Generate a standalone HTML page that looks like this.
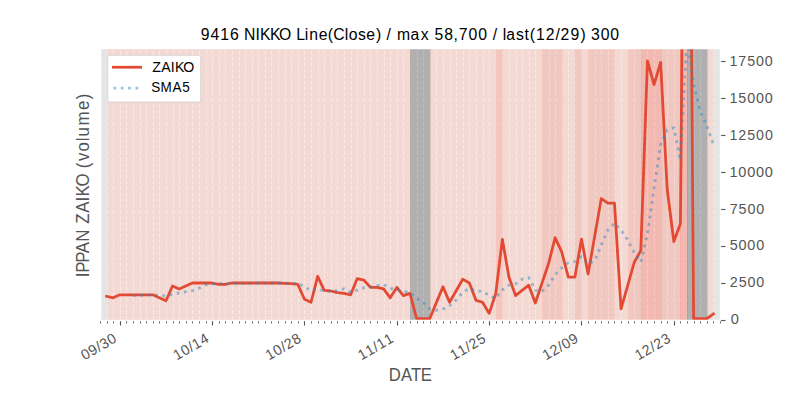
<!DOCTYPE html>
<html><head><meta charset="utf-8"><title>9416 NIKKO Line(Close)</title>
<style>html,body{margin:0;padding:0;background:#fff;width:800px;height:400px;overflow:hidden}
svg{display:block;font-family:"Liberation Sans",sans-serif}</style></head>
<body><svg width="800" height="400" viewBox="0 0 800 400">
<rect x="0" y="0" width="800" height="400" fill="#ffffff"/>
<rect x="100.0" y="48.0" width="620.0" height="272.0" fill="#e5e5e5"/>
<defs><clipPath id="axclip"><rect x="100" y="48" width="620" height="272"/></clipPath></defs>
<g clip-path="url(#axclip)">
<line x1="100.5" y1="320.0" x2="100.5" y2="48.0" stroke="#ffffff" stroke-width="1.111" stroke-dasharray="4.111 1.778"/>
<line x1="107.5" y1="320.0" x2="107.5" y2="48.0" stroke="#ffffff" stroke-width="1.111" stroke-dasharray="4.111 1.778"/>
<line x1="113.5" y1="320.0" x2="113.5" y2="48.0" stroke="#ffffff" stroke-width="1.111" stroke-dasharray="4.111 1.778"/>
<line x1="120.5" y1="320.0" x2="120.5" y2="48.0" stroke="#ffffff" stroke-width="1.111" stroke-dasharray="4.111 1.778"/>
<line x1="126.5" y1="320.0" x2="126.5" y2="48.0" stroke="#ffffff" stroke-width="1.111" stroke-dasharray="4.111 1.778"/>
<line x1="133.5" y1="320.0" x2="133.5" y2="48.0" stroke="#ffffff" stroke-width="1.111" stroke-dasharray="4.111 1.778"/>
<line x1="140.5" y1="320.0" x2="140.5" y2="48.0" stroke="#ffffff" stroke-width="1.111" stroke-dasharray="4.111 1.778"/>
<line x1="146.5" y1="320.0" x2="146.5" y2="48.0" stroke="#ffffff" stroke-width="1.111" stroke-dasharray="4.111 1.778"/>
<line x1="153.5" y1="320.0" x2="153.5" y2="48.0" stroke="#ffffff" stroke-width="1.111" stroke-dasharray="4.111 1.778"/>
<line x1="159.5" y1="320.0" x2="159.5" y2="48.0" stroke="#ffffff" stroke-width="1.111" stroke-dasharray="4.111 1.778"/>
<line x1="166.5" y1="320.0" x2="166.5" y2="48.0" stroke="#ffffff" stroke-width="1.111" stroke-dasharray="4.111 1.778"/>
<line x1="173.5" y1="320.0" x2="173.5" y2="48.0" stroke="#ffffff" stroke-width="1.111" stroke-dasharray="4.111 1.778"/>
<line x1="179.5" y1="320.0" x2="179.5" y2="48.0" stroke="#ffffff" stroke-width="1.111" stroke-dasharray="4.111 1.778"/>
<line x1="186.5" y1="320.0" x2="186.5" y2="48.0" stroke="#ffffff" stroke-width="1.111" stroke-dasharray="4.111 1.778"/>
<line x1="192.5" y1="320.0" x2="192.5" y2="48.0" stroke="#ffffff" stroke-width="1.111" stroke-dasharray="4.111 1.778"/>
<line x1="199.5" y1="320.0" x2="199.5" y2="48.0" stroke="#ffffff" stroke-width="1.111" stroke-dasharray="4.111 1.778"/>
<line x1="206.5" y1="320.0" x2="206.5" y2="48.0" stroke="#ffffff" stroke-width="1.111" stroke-dasharray="4.111 1.778"/>
<line x1="212.5" y1="320.0" x2="212.5" y2="48.0" stroke="#ffffff" stroke-width="1.111" stroke-dasharray="4.111 1.778"/>
<line x1="219.5" y1="320.0" x2="219.5" y2="48.0" stroke="#ffffff" stroke-width="1.111" stroke-dasharray="4.111 1.778"/>
<line x1="225.5" y1="320.0" x2="225.5" y2="48.0" stroke="#ffffff" stroke-width="1.111" stroke-dasharray="4.111 1.778"/>
<line x1="232.5" y1="320.0" x2="232.5" y2="48.0" stroke="#ffffff" stroke-width="1.111" stroke-dasharray="4.111 1.778"/>
<line x1="239.5" y1="320.0" x2="239.5" y2="48.0" stroke="#ffffff" stroke-width="1.111" stroke-dasharray="4.111 1.778"/>
<line x1="245.5" y1="320.0" x2="245.5" y2="48.0" stroke="#ffffff" stroke-width="1.111" stroke-dasharray="4.111 1.778"/>
<line x1="252.5" y1="320.0" x2="252.5" y2="48.0" stroke="#ffffff" stroke-width="1.111" stroke-dasharray="4.111 1.778"/>
<line x1="258.5" y1="320.0" x2="258.5" y2="48.0" stroke="#ffffff" stroke-width="1.111" stroke-dasharray="4.111 1.778"/>
<line x1="265.5" y1="320.0" x2="265.5" y2="48.0" stroke="#ffffff" stroke-width="1.111" stroke-dasharray="4.111 1.778"/>
<line x1="271.5" y1="320.0" x2="271.5" y2="48.0" stroke="#ffffff" stroke-width="1.111" stroke-dasharray="4.111 1.778"/>
<line x1="278.5" y1="320.0" x2="278.5" y2="48.0" stroke="#ffffff" stroke-width="1.111" stroke-dasharray="4.111 1.778"/>
<line x1="285.5" y1="320.0" x2="285.5" y2="48.0" stroke="#ffffff" stroke-width="1.111" stroke-dasharray="4.111 1.778"/>
<line x1="291.5" y1="320.0" x2="291.5" y2="48.0" stroke="#ffffff" stroke-width="1.111" stroke-dasharray="4.111 1.778"/>
<line x1="298.5" y1="320.0" x2="298.5" y2="48.0" stroke="#ffffff" stroke-width="1.111" stroke-dasharray="4.111 1.778"/>
<line x1="304.5" y1="320.0" x2="304.5" y2="48.0" stroke="#ffffff" stroke-width="1.111" stroke-dasharray="4.111 1.778"/>
<line x1="311.5" y1="320.0" x2="311.5" y2="48.0" stroke="#ffffff" stroke-width="1.111" stroke-dasharray="4.111 1.778"/>
<line x1="318.5" y1="320.0" x2="318.5" y2="48.0" stroke="#ffffff" stroke-width="1.111" stroke-dasharray="4.111 1.778"/>
<line x1="324.5" y1="320.0" x2="324.5" y2="48.0" stroke="#ffffff" stroke-width="1.111" stroke-dasharray="4.111 1.778"/>
<line x1="331.5" y1="320.0" x2="331.5" y2="48.0" stroke="#ffffff" stroke-width="1.111" stroke-dasharray="4.111 1.778"/>
<line x1="337.5" y1="320.0" x2="337.5" y2="48.0" stroke="#ffffff" stroke-width="1.111" stroke-dasharray="4.111 1.778"/>
<line x1="344.5" y1="320.0" x2="344.5" y2="48.0" stroke="#ffffff" stroke-width="1.111" stroke-dasharray="4.111 1.778"/>
<line x1="351.5" y1="320.0" x2="351.5" y2="48.0" stroke="#ffffff" stroke-width="1.111" stroke-dasharray="4.111 1.778"/>
<line x1="357.5" y1="320.0" x2="357.5" y2="48.0" stroke="#ffffff" stroke-width="1.111" stroke-dasharray="4.111 1.778"/>
<line x1="364.5" y1="320.0" x2="364.5" y2="48.0" stroke="#ffffff" stroke-width="1.111" stroke-dasharray="4.111 1.778"/>
<line x1="370.5" y1="320.0" x2="370.5" y2="48.0" stroke="#ffffff" stroke-width="1.111" stroke-dasharray="4.111 1.778"/>
<line x1="377.5" y1="320.0" x2="377.5" y2="48.0" stroke="#ffffff" stroke-width="1.111" stroke-dasharray="4.111 1.778"/>
<line x1="384.5" y1="320.0" x2="384.5" y2="48.0" stroke="#ffffff" stroke-width="1.111" stroke-dasharray="4.111 1.778"/>
<line x1="390.5" y1="320.0" x2="390.5" y2="48.0" stroke="#ffffff" stroke-width="1.111" stroke-dasharray="4.111 1.778"/>
<line x1="397.5" y1="320.0" x2="397.5" y2="48.0" stroke="#ffffff" stroke-width="1.111" stroke-dasharray="4.111 1.778"/>
<line x1="403.5" y1="320.0" x2="403.5" y2="48.0" stroke="#ffffff" stroke-width="1.111" stroke-dasharray="4.111 1.778"/>
<line x1="410.5" y1="320.0" x2="410.5" y2="48.0" stroke="#ffffff" stroke-width="1.111" stroke-dasharray="4.111 1.778"/>
<line x1="417.5" y1="320.0" x2="417.5" y2="48.0" stroke="#ffffff" stroke-width="1.111" stroke-dasharray="4.111 1.778"/>
<line x1="423.5" y1="320.0" x2="423.5" y2="48.0" stroke="#ffffff" stroke-width="1.111" stroke-dasharray="4.111 1.778"/>
<line x1="430.5" y1="320.0" x2="430.5" y2="48.0" stroke="#ffffff" stroke-width="1.111" stroke-dasharray="4.111 1.778"/>
<line x1="436.5" y1="320.0" x2="436.5" y2="48.0" stroke="#ffffff" stroke-width="1.111" stroke-dasharray="4.111 1.778"/>
<line x1="443.5" y1="320.0" x2="443.5" y2="48.0" stroke="#ffffff" stroke-width="1.111" stroke-dasharray="4.111 1.778"/>
<line x1="450.5" y1="320.0" x2="450.5" y2="48.0" stroke="#ffffff" stroke-width="1.111" stroke-dasharray="4.111 1.778"/>
<line x1="456.5" y1="320.0" x2="456.5" y2="48.0" stroke="#ffffff" stroke-width="1.111" stroke-dasharray="4.111 1.778"/>
<line x1="463.5" y1="320.0" x2="463.5" y2="48.0" stroke="#ffffff" stroke-width="1.111" stroke-dasharray="4.111 1.778"/>
<line x1="469.5" y1="320.0" x2="469.5" y2="48.0" stroke="#ffffff" stroke-width="1.111" stroke-dasharray="4.111 1.778"/>
<line x1="476.5" y1="320.0" x2="476.5" y2="48.0" stroke="#ffffff" stroke-width="1.111" stroke-dasharray="4.111 1.778"/>
<line x1="483.5" y1="320.0" x2="483.5" y2="48.0" stroke="#ffffff" stroke-width="1.111" stroke-dasharray="4.111 1.778"/>
<line x1="489.5" y1="320.0" x2="489.5" y2="48.0" stroke="#ffffff" stroke-width="1.111" stroke-dasharray="4.111 1.778"/>
<line x1="496.5" y1="320.0" x2="496.5" y2="48.0" stroke="#ffffff" stroke-width="1.111" stroke-dasharray="4.111 1.778"/>
<line x1="502.5" y1="320.0" x2="502.5" y2="48.0" stroke="#ffffff" stroke-width="1.111" stroke-dasharray="4.111 1.778"/>
<line x1="509.5" y1="320.0" x2="509.5" y2="48.0" stroke="#ffffff" stroke-width="1.111" stroke-dasharray="4.111 1.778"/>
<line x1="516.5" y1="320.0" x2="516.5" y2="48.0" stroke="#ffffff" stroke-width="1.111" stroke-dasharray="4.111 1.778"/>
<line x1="522.5" y1="320.0" x2="522.5" y2="48.0" stroke="#ffffff" stroke-width="1.111" stroke-dasharray="4.111 1.778"/>
<line x1="529.5" y1="320.0" x2="529.5" y2="48.0" stroke="#ffffff" stroke-width="1.111" stroke-dasharray="4.111 1.778"/>
<line x1="535.5" y1="320.0" x2="535.5" y2="48.0" stroke="#ffffff" stroke-width="1.111" stroke-dasharray="4.111 1.778"/>
<line x1="542.5" y1="320.0" x2="542.5" y2="48.0" stroke="#ffffff" stroke-width="1.111" stroke-dasharray="4.111 1.778"/>
<line x1="549.5" y1="320.0" x2="549.5" y2="48.0" stroke="#ffffff" stroke-width="1.111" stroke-dasharray="4.111 1.778"/>
<line x1="555.5" y1="320.0" x2="555.5" y2="48.0" stroke="#ffffff" stroke-width="1.111" stroke-dasharray="4.111 1.778"/>
<line x1="562.5" y1="320.0" x2="562.5" y2="48.0" stroke="#ffffff" stroke-width="1.111" stroke-dasharray="4.111 1.778"/>
<line x1="568.5" y1="320.0" x2="568.5" y2="48.0" stroke="#ffffff" stroke-width="1.111" stroke-dasharray="4.111 1.778"/>
<line x1="575.5" y1="320.0" x2="575.5" y2="48.0" stroke="#ffffff" stroke-width="1.111" stroke-dasharray="4.111 1.778"/>
<line x1="581.5" y1="320.0" x2="581.5" y2="48.0" stroke="#ffffff" stroke-width="1.111" stroke-dasharray="4.111 1.778"/>
<line x1="588.5" y1="320.0" x2="588.5" y2="48.0" stroke="#ffffff" stroke-width="1.111" stroke-dasharray="4.111 1.778"/>
<line x1="595.5" y1="320.0" x2="595.5" y2="48.0" stroke="#ffffff" stroke-width="1.111" stroke-dasharray="4.111 1.778"/>
<line x1="601.5" y1="320.0" x2="601.5" y2="48.0" stroke="#ffffff" stroke-width="1.111" stroke-dasharray="4.111 1.778"/>
<line x1="608.5" y1="320.0" x2="608.5" y2="48.0" stroke="#ffffff" stroke-width="1.111" stroke-dasharray="4.111 1.778"/>
<line x1="614.5" y1="320.0" x2="614.5" y2="48.0" stroke="#ffffff" stroke-width="1.111" stroke-dasharray="4.111 1.778"/>
<line x1="621.5" y1="320.0" x2="621.5" y2="48.0" stroke="#ffffff" stroke-width="1.111" stroke-dasharray="4.111 1.778"/>
<line x1="628.5" y1="320.0" x2="628.5" y2="48.0" stroke="#ffffff" stroke-width="1.111" stroke-dasharray="4.111 1.778"/>
<line x1="634.5" y1="320.0" x2="634.5" y2="48.0" stroke="#ffffff" stroke-width="1.111" stroke-dasharray="4.111 1.778"/>
<line x1="641.5" y1="320.0" x2="641.5" y2="48.0" stroke="#ffffff" stroke-width="1.111" stroke-dasharray="4.111 1.778"/>
<line x1="647.5" y1="320.0" x2="647.5" y2="48.0" stroke="#ffffff" stroke-width="1.111" stroke-dasharray="4.111 1.778"/>
<line x1="654.5" y1="320.0" x2="654.5" y2="48.0" stroke="#ffffff" stroke-width="1.111" stroke-dasharray="4.111 1.778"/>
<line x1="661.5" y1="320.0" x2="661.5" y2="48.0" stroke="#ffffff" stroke-width="1.111" stroke-dasharray="4.111 1.778"/>
<line x1="667.5" y1="320.0" x2="667.5" y2="48.0" stroke="#ffffff" stroke-width="1.111" stroke-dasharray="4.111 1.778"/>
<line x1="674.5" y1="320.0" x2="674.5" y2="48.0" stroke="#ffffff" stroke-width="1.111" stroke-dasharray="4.111 1.778"/>
<line x1="680.5" y1="320.0" x2="680.5" y2="48.0" stroke="#ffffff" stroke-width="1.111" stroke-dasharray="4.111 1.778"/>
<line x1="687.5" y1="320.0" x2="687.5" y2="48.0" stroke="#ffffff" stroke-width="1.111" stroke-dasharray="4.111 1.778"/>
<line x1="694.5" y1="320.0" x2="694.5" y2="48.0" stroke="#ffffff" stroke-width="1.111" stroke-dasharray="4.111 1.778"/>
<line x1="700.5" y1="320.0" x2="700.5" y2="48.0" stroke="#ffffff" stroke-width="1.111" stroke-dasharray="4.111 1.778"/>
<line x1="707.5" y1="320.0" x2="707.5" y2="48.0" stroke="#ffffff" stroke-width="1.111" stroke-dasharray="4.111 1.778"/>
<line x1="713.5" y1="320.0" x2="713.5" y2="48.0" stroke="#ffffff" stroke-width="1.111" stroke-dasharray="4.111 1.778"/>
<line x1="720.5" y1="320.0" x2="720.5" y2="48.0" stroke="#ffffff" stroke-width="1.111" stroke-dasharray="4.111 1.778"/>
<rect x="107.5" y="47.5" width="303.0" height="273.0" fill="#ffcdc1" fill-opacity="0.5" stroke="#ffcdc1" stroke-opacity="0.5" stroke-width="0.694"/>
<rect x="410.5" y="47.5" width="20.0" height="273.0" fill="#7b7b7b" fill-opacity="0.5" stroke="#7b7b7b" stroke-opacity="0.5" stroke-width="0.694"/>
<rect x="430.5" y="47.5" width="66.0" height="273.0" fill="#ffcdc1" fill-opacity="0.5" stroke="#ffcdc1" stroke-opacity="0.5" stroke-width="0.694"/>
<rect x="496.5" y="47.5" width="6.0" height="273.0" fill="#fbab9f" fill-opacity="0.5" stroke="#fbab9f" stroke-opacity="0.5" stroke-width="0.694"/>
<rect x="502.5" y="47.5" width="40.0" height="273.0" fill="#ffcdc1" fill-opacity="0.5" stroke="#ffcdc1" stroke-opacity="0.5" stroke-width="0.694"/>
<rect x="542.5" y="47.5" width="20.0" height="273.0" fill="#fbab9f" fill-opacity="0.5" stroke="#fbab9f" stroke-opacity="0.5" stroke-width="0.694"/>
<rect x="562.5" y="47.5" width="13.0" height="273.0" fill="#ffcdc1" fill-opacity="0.5" stroke="#ffcdc1" stroke-opacity="0.5" stroke-width="0.694"/>
<rect x="575.5" y="47.5" width="6.0" height="273.0" fill="#fbab9f" fill-opacity="0.5" stroke="#fbab9f" stroke-opacity="0.5" stroke-width="0.694"/>
<rect x="581.5" y="47.5" width="7.0" height="273.0" fill="#ffcdc1" fill-opacity="0.5" stroke="#ffcdc1" stroke-opacity="0.5" stroke-width="0.694"/>
<rect x="588.5" y="47.5" width="26.0" height="273.0" fill="#fbab9f" fill-opacity="0.5" stroke="#fbab9f" stroke-opacity="0.5" stroke-width="0.694"/>
<rect x="614.5" y="47.5" width="14.0" height="273.0" fill="#ffcdc1" fill-opacity="0.5" stroke="#ffcdc1" stroke-opacity="0.5" stroke-width="0.694"/>
<rect x="628.5" y="47.5" width="13.0" height="273.0" fill="#fbab9f" fill-opacity="0.5" stroke="#fbab9f" stroke-opacity="0.5" stroke-width="0.694"/>
<rect x="641.5" y="47.5" width="20.0" height="273.0" fill="#ff8d7f" fill-opacity="0.5" stroke="#ff8d7f" stroke-opacity="0.5" stroke-width="0.694"/>
<rect x="661.5" y="47.5" width="19.0" height="273.0" fill="#fbab9f" fill-opacity="0.5" stroke="#fbab9f" stroke-opacity="0.5" stroke-width="0.694"/>
<rect x="680.5" y="47.5" width="7.0" height="273.0" fill="#ff8d7f" fill-opacity="0.5" stroke="#ff8d7f" stroke-opacity="0.5" stroke-width="0.694"/>
<rect x="687.5" y="47.5" width="20.0" height="273.0" fill="#7b7b7b" fill-opacity="0.5" stroke="#7b7b7b" stroke-opacity="0.5" stroke-width="0.694"/>
<rect x="707.5" y="47.5" width="6.0" height="273.0" fill="#ffcdc1" fill-opacity="0.5" stroke="#ffcdc1" stroke-opacity="0.5" stroke-width="0.694"/>
<polyline points="106.60,296.32 113.19,297.80 119.79,294.84 126.38,294.84 132.98,294.84 139.57,294.84 146.17,294.84 152.77,294.84 165.96,300.76 172.55,285.95 179.15,288.91 192.34,282.99 198.94,282.99 205.53,282.99 212.13,282.99 218.72,284.47 225.32,284.47 231.91,282.99 238.51,282.99 245.11,282.99 251.70,282.99 258.30,282.99 264.89,282.99 271.49,282.99 278.09,282.99 284.68,283.29 291.28,283.73 297.87,284.47 304.47,299.28 311.06,302.24 317.66,276.33 324.26,290.39 330.85,290.99 337.45,292.61 344.04,293.36 350.64,294.84 357.23,278.55 363.83,280.03 370.43,287.43 377.02,287.43 383.62,288.91 390.21,297.80 396.81,287.43 403.40,295.58 410.00,293.36 416.60,318.52 423.19,318.52 429.79,318.52 436.38,302.61 442.98,286.69 449.57,302.24 456.17,290.76 462.77,279.29 469.36,282.99 475.96,300.31 482.55,302.24 489.15,313.34 495.74,293.65 502.34,239.33 508.94,277.07 515.53,295.58 522.13,290.39 528.72,285.21 535.32,302.98 541.91,283.36 548.51,263.75 555.11,237.70 561.70,251.91 568.30,277.07 574.89,277.07 581.49,239.03 588.09,274.11 594.68,236.36 601.28,198.62 607.87,203.06 614.47,203.06 621.06,308.90 627.66,285.58 634.26,262.27 640.85,250.43 647.45,60.95 654.04,84.64 660.64,62.43 667.23,189.74 673.83,241.55 680.43,223.78 687.02,-548.92 693.62,318.52 700.21,318.52 706.81,318.52 713.40,313.86" fill="none" stroke="#e24a33" stroke-width="2.778" stroke-linejoin="round" stroke-linecap="square"/>
<polyline points="132.98,295.72 139.57,295.43 146.17,294.84 152.77,294.84 165.96,296.02 172.55,294.24 179.15,293.06 192.34,290.69 198.94,288.32 205.53,284.77 212.13,284.18 218.72,283.29 225.32,283.59 231.91,283.59 238.51,283.59 245.11,283.59 251.70,283.29 258.30,282.99 264.89,282.99 271.49,282.99 278.09,282.99 284.68,283.05 291.28,283.20 297.87,283.50 304.47,286.75 311.06,290.60 317.66,289.21 324.26,290.54 330.85,291.85 337.45,290.51 344.04,288.74 350.64,292.44 357.23,290.07 363.83,287.88 370.43,286.84 377.02,285.66 383.62,284.47 390.21,288.32 396.81,289.80 403.40,291.43 410.00,292.61 416.60,298.54 423.19,302.68 429.79,308.90 436.38,310.30 442.98,308.97 449.57,305.72 456.17,300.16 462.77,292.32 469.36,288.40 475.96,291.12 482.55,291.12 489.15,295.63 495.74,298.51 502.34,289.77 508.94,285.12 515.53,283.79 522.13,279.20 528.72,277.52 535.32,290.25 541.91,291.50 548.51,285.14 555.11,274.60 561.70,267.94 568.30,262.76 574.89,261.50 581.49,256.56 588.09,263.84 594.68,260.73 601.28,245.04 607.87,230.24 614.47,223.04 621.06,230.00 627.66,239.84 634.26,252.57 640.85,262.05 647.45,233.63 654.04,188.77 660.64,144.14 667.23,129.64 673.83,127.86 680.43,160.43 687.02,33.72 693.62,84.93 700.21,110.69 706.81,126.08 713.40,144.10" fill="none" stroke="#348abd" stroke-opacity="0.5" stroke-width="2.778" stroke-dasharray="2.778 4.583" stroke-linejoin="round" stroke-linecap="butt"/>
</g>
<line x1="100.5" y1="320" x2="100.5" y2="323.5" stroke="#555555" stroke-width="0.833"/>
<line x1="107.5" y1="320" x2="107.5" y2="323.5" stroke="#555555" stroke-width="0.833"/>
<line x1="113.5" y1="320" x2="113.5" y2="323.5" stroke="#555555" stroke-width="0.833"/>
<line x1="120.5" y1="320" x2="120.5" y2="325.5" stroke="#555555" stroke-width="1.111"/>
<line x1="126.5" y1="320" x2="126.5" y2="323.5" stroke="#555555" stroke-width="0.833"/>
<line x1="133.5" y1="320" x2="133.5" y2="323.5" stroke="#555555" stroke-width="0.833"/>
<line x1="140.5" y1="320" x2="140.5" y2="323.5" stroke="#555555" stroke-width="0.833"/>
<line x1="146.5" y1="320" x2="146.5" y2="323.5" stroke="#555555" stroke-width="0.833"/>
<line x1="153.5" y1="320" x2="153.5" y2="323.5" stroke="#555555" stroke-width="0.833"/>
<line x1="159.5" y1="320" x2="159.5" y2="323.5" stroke="#555555" stroke-width="0.833"/>
<line x1="166.5" y1="320" x2="166.5" y2="323.5" stroke="#555555" stroke-width="0.833"/>
<line x1="173.5" y1="320" x2="173.5" y2="323.5" stroke="#555555" stroke-width="0.833"/>
<line x1="179.5" y1="320" x2="179.5" y2="323.5" stroke="#555555" stroke-width="0.833"/>
<line x1="186.5" y1="320" x2="186.5" y2="323.5" stroke="#555555" stroke-width="0.833"/>
<line x1="192.5" y1="320" x2="192.5" y2="323.5" stroke="#555555" stroke-width="0.833"/>
<line x1="199.5" y1="320" x2="199.5" y2="323.5" stroke="#555555" stroke-width="0.833"/>
<line x1="206.5" y1="320" x2="206.5" y2="323.5" stroke="#555555" stroke-width="0.833"/>
<line x1="212.5" y1="320" x2="212.5" y2="325.5" stroke="#555555" stroke-width="1.111"/>
<line x1="219.5" y1="320" x2="219.5" y2="323.5" stroke="#555555" stroke-width="0.833"/>
<line x1="225.5" y1="320" x2="225.5" y2="323.5" stroke="#555555" stroke-width="0.833"/>
<line x1="232.5" y1="320" x2="232.5" y2="323.5" stroke="#555555" stroke-width="0.833"/>
<line x1="239.5" y1="320" x2="239.5" y2="323.5" stroke="#555555" stroke-width="0.833"/>
<line x1="245.5" y1="320" x2="245.5" y2="323.5" stroke="#555555" stroke-width="0.833"/>
<line x1="252.5" y1="320" x2="252.5" y2="323.5" stroke="#555555" stroke-width="0.833"/>
<line x1="258.5" y1="320" x2="258.5" y2="323.5" stroke="#555555" stroke-width="0.833"/>
<line x1="265.5" y1="320" x2="265.5" y2="323.5" stroke="#555555" stroke-width="0.833"/>
<line x1="271.5" y1="320" x2="271.5" y2="323.5" stroke="#555555" stroke-width="0.833"/>
<line x1="278.5" y1="320" x2="278.5" y2="323.5" stroke="#555555" stroke-width="0.833"/>
<line x1="285.5" y1="320" x2="285.5" y2="323.5" stroke="#555555" stroke-width="0.833"/>
<line x1="291.5" y1="320" x2="291.5" y2="323.5" stroke="#555555" stroke-width="0.833"/>
<line x1="298.5" y1="320" x2="298.5" y2="323.5" stroke="#555555" stroke-width="0.833"/>
<line x1="304.5" y1="320" x2="304.5" y2="325.5" stroke="#555555" stroke-width="1.111"/>
<line x1="311.5" y1="320" x2="311.5" y2="323.5" stroke="#555555" stroke-width="0.833"/>
<line x1="318.5" y1="320" x2="318.5" y2="323.5" stroke="#555555" stroke-width="0.833"/>
<line x1="324.5" y1="320" x2="324.5" y2="323.5" stroke="#555555" stroke-width="0.833"/>
<line x1="331.5" y1="320" x2="331.5" y2="323.5" stroke="#555555" stroke-width="0.833"/>
<line x1="337.5" y1="320" x2="337.5" y2="323.5" stroke="#555555" stroke-width="0.833"/>
<line x1="344.5" y1="320" x2="344.5" y2="323.5" stroke="#555555" stroke-width="0.833"/>
<line x1="351.5" y1="320" x2="351.5" y2="323.5" stroke="#555555" stroke-width="0.833"/>
<line x1="357.5" y1="320" x2="357.5" y2="323.5" stroke="#555555" stroke-width="0.833"/>
<line x1="364.5" y1="320" x2="364.5" y2="323.5" stroke="#555555" stroke-width="0.833"/>
<line x1="370.5" y1="320" x2="370.5" y2="323.5" stroke="#555555" stroke-width="0.833"/>
<line x1="377.5" y1="320" x2="377.5" y2="323.5" stroke="#555555" stroke-width="0.833"/>
<line x1="384.5" y1="320" x2="384.5" y2="323.5" stroke="#555555" stroke-width="0.833"/>
<line x1="390.5" y1="320" x2="390.5" y2="323.5" stroke="#555555" stroke-width="0.833"/>
<line x1="397.5" y1="320" x2="397.5" y2="325.5" stroke="#555555" stroke-width="1.111"/>
<line x1="403.5" y1="320" x2="403.5" y2="323.5" stroke="#555555" stroke-width="0.833"/>
<line x1="410.5" y1="320" x2="410.5" y2="323.5" stroke="#555555" stroke-width="0.833"/>
<line x1="417.5" y1="320" x2="417.5" y2="323.5" stroke="#555555" stroke-width="0.833"/>
<line x1="423.5" y1="320" x2="423.5" y2="323.5" stroke="#555555" stroke-width="0.833"/>
<line x1="430.5" y1="320" x2="430.5" y2="323.5" stroke="#555555" stroke-width="0.833"/>
<line x1="436.5" y1="320" x2="436.5" y2="323.5" stroke="#555555" stroke-width="0.833"/>
<line x1="443.5" y1="320" x2="443.5" y2="323.5" stroke="#555555" stroke-width="0.833"/>
<line x1="450.5" y1="320" x2="450.5" y2="323.5" stroke="#555555" stroke-width="0.833"/>
<line x1="456.5" y1="320" x2="456.5" y2="323.5" stroke="#555555" stroke-width="0.833"/>
<line x1="463.5" y1="320" x2="463.5" y2="323.5" stroke="#555555" stroke-width="0.833"/>
<line x1="469.5" y1="320" x2="469.5" y2="323.5" stroke="#555555" stroke-width="0.833"/>
<line x1="476.5" y1="320" x2="476.5" y2="323.5" stroke="#555555" stroke-width="0.833"/>
<line x1="483.5" y1="320" x2="483.5" y2="323.5" stroke="#555555" stroke-width="0.833"/>
<line x1="489.5" y1="320" x2="489.5" y2="325.5" stroke="#555555" stroke-width="1.111"/>
<line x1="496.5" y1="320" x2="496.5" y2="323.5" stroke="#555555" stroke-width="0.833"/>
<line x1="502.5" y1="320" x2="502.5" y2="323.5" stroke="#555555" stroke-width="0.833"/>
<line x1="509.5" y1="320" x2="509.5" y2="323.5" stroke="#555555" stroke-width="0.833"/>
<line x1="516.5" y1="320" x2="516.5" y2="323.5" stroke="#555555" stroke-width="0.833"/>
<line x1="522.5" y1="320" x2="522.5" y2="323.5" stroke="#555555" stroke-width="0.833"/>
<line x1="529.5" y1="320" x2="529.5" y2="323.5" stroke="#555555" stroke-width="0.833"/>
<line x1="535.5" y1="320" x2="535.5" y2="323.5" stroke="#555555" stroke-width="0.833"/>
<line x1="542.5" y1="320" x2="542.5" y2="323.5" stroke="#555555" stroke-width="0.833"/>
<line x1="549.5" y1="320" x2="549.5" y2="323.5" stroke="#555555" stroke-width="0.833"/>
<line x1="555.5" y1="320" x2="555.5" y2="323.5" stroke="#555555" stroke-width="0.833"/>
<line x1="562.5" y1="320" x2="562.5" y2="323.5" stroke="#555555" stroke-width="0.833"/>
<line x1="568.5" y1="320" x2="568.5" y2="323.5" stroke="#555555" stroke-width="0.833"/>
<line x1="575.5" y1="320" x2="575.5" y2="323.5" stroke="#555555" stroke-width="0.833"/>
<line x1="581.5" y1="320" x2="581.5" y2="325.5" stroke="#555555" stroke-width="1.111"/>
<line x1="588.5" y1="320" x2="588.5" y2="323.5" stroke="#555555" stroke-width="0.833"/>
<line x1="595.5" y1="320" x2="595.5" y2="323.5" stroke="#555555" stroke-width="0.833"/>
<line x1="601.5" y1="320" x2="601.5" y2="323.5" stroke="#555555" stroke-width="0.833"/>
<line x1="608.5" y1="320" x2="608.5" y2="323.5" stroke="#555555" stroke-width="0.833"/>
<line x1="614.5" y1="320" x2="614.5" y2="323.5" stroke="#555555" stroke-width="0.833"/>
<line x1="621.5" y1="320" x2="621.5" y2="323.5" stroke="#555555" stroke-width="0.833"/>
<line x1="628.5" y1="320" x2="628.5" y2="323.5" stroke="#555555" stroke-width="0.833"/>
<line x1="634.5" y1="320" x2="634.5" y2="323.5" stroke="#555555" stroke-width="0.833"/>
<line x1="641.5" y1="320" x2="641.5" y2="323.5" stroke="#555555" stroke-width="0.833"/>
<line x1="647.5" y1="320" x2="647.5" y2="323.5" stroke="#555555" stroke-width="0.833"/>
<line x1="654.5" y1="320" x2="654.5" y2="323.5" stroke="#555555" stroke-width="0.833"/>
<line x1="661.5" y1="320" x2="661.5" y2="323.5" stroke="#555555" stroke-width="0.833"/>
<line x1="667.5" y1="320" x2="667.5" y2="323.5" stroke="#555555" stroke-width="0.833"/>
<line x1="674.5" y1="320" x2="674.5" y2="325.5" stroke="#555555" stroke-width="1.111"/>
<line x1="680.5" y1="320" x2="680.5" y2="323.5" stroke="#555555" stroke-width="0.833"/>
<line x1="687.5" y1="320" x2="687.5" y2="323.5" stroke="#555555" stroke-width="0.833"/>
<line x1="694.5" y1="320" x2="694.5" y2="323.5" stroke="#555555" stroke-width="0.833"/>
<line x1="700.5" y1="320" x2="700.5" y2="323.5" stroke="#555555" stroke-width="0.833"/>
<line x1="707.5" y1="320" x2="707.5" y2="323.5" stroke="#555555" stroke-width="0.833"/>
<line x1="713.5" y1="320" x2="713.5" y2="323.5" stroke="#555555" stroke-width="0.833"/>
<line x1="720.5" y1="320" x2="720.5" y2="323.5" stroke="#555555" stroke-width="0.833"/>
<line x1="720" y1="320.5" x2="725.5" y2="320.5" stroke="#555555" stroke-width="1.111"/>
<line x1="720" y1="283.5" x2="725.5" y2="283.5" stroke="#555555" stroke-width="1.111"/>
<line x1="720" y1="246.5" x2="725.5" y2="246.5" stroke="#555555" stroke-width="1.111"/>
<line x1="720" y1="209.5" x2="725.5" y2="209.5" stroke="#555555" stroke-width="1.111"/>
<line x1="720" y1="172.5" x2="725.5" y2="172.5" stroke="#555555" stroke-width="1.111"/>
<line x1="720" y1="135.5" x2="725.5" y2="135.5" stroke="#555555" stroke-width="1.111"/>
<line x1="720" y1="98.5" x2="725.5" y2="98.5" stroke="#555555" stroke-width="1.111"/>
<line x1="720" y1="61.5" x2="725.5" y2="61.5" stroke="#555555" stroke-width="1.111"/>
<line x1="100.5" y1="48" x2="100.5" y2="320" stroke="#ffffff" stroke-width="1.389" stroke-linecap="square"/>
<line x1="720.5" y1="48" x2="720.5" y2="320" stroke="#ffffff" stroke-width="1.389" stroke-linecap="square"/>
<line x1="100" y1="48.5" x2="720" y2="48.5" stroke="#ffffff" stroke-width="1.389" stroke-linecap="square"/>
<line x1="100" y1="320.5" x2="720" y2="320.5" stroke="#ffffff" stroke-width="1.389" stroke-linecap="square"/>
<rect x="107.74" y="55.34" width="92.93" height="46.66" rx="2.2" ry="2.2" fill="#ffffff" stroke="#cccccc" stroke-width="0.694"/>
<line x1="113.4" y1="67.24" x2="140.6" y2="67.24" stroke="#e24a33" stroke-width="2.778" stroke-linecap="square"/>
<line x1="113.4" y1="88.18" x2="140.6" y2="88.18" stroke="#348abd" stroke-opacity="0.5" stroke-width="2.778" stroke-dasharray="2.778 4.583"/>
<g font-family="Liberation Sans, sans-serif">
<text transform="translate(151.79 71.95) scale(0.9727 1)" x="0.43 9.79 19.61 23.89 32.27" y="0" font-size="14.58" fill="#000000" xml:space="preserve">ZAIKO</text>
<text transform="translate(151.39 92.34) scale(0.9276 1)" x="-0.03 9.88 22.66 33.28" y="0" font-size="14.58" fill="#000000" xml:space="preserve">SMA5</text>
<text transform="translate(730.32 324.03) scale(1.0039 1)" x="0.34" y="0" font-size="14.58" fill="#555555" xml:space="preserve">0</text>
<text transform="translate(729.42 286.77) scale(0.9810 1)" x="0.26 9.39 18.44 27.44" y="0" font-size="14.58" fill="#555555" xml:space="preserve">2500</text>
<text transform="translate(729.32 250.01) scale(0.9899 1)" x="0.35 9.32 18.24 27.16" y="0" font-size="14.58" fill="#555555" xml:space="preserve">5000</text>
<text transform="translate(729.42 213.51) scale(0.9845 1)" x="0.40 9.34 18.36 27.33" y="0" font-size="14.58" fill="#555555" xml:space="preserve">7500</text>
<text transform="translate(729.12 176.75) scale(0.9956 1)" x="0.31 9.25 18.11 26.98 35.84" y="0" font-size="14.58" fill="#555555" xml:space="preserve">10000</text>
<text transform="translate(729.12 139.74) scale(0.9769 1)" x="0.39 9.31 18.48 27.57 36.61" y="0" font-size="14.58" fill="#555555" xml:space="preserve">12500</text>
<text transform="translate(729.12 102.74) scale(0.9842 1)" x="0.36 9.35 18.37 27.34 36.31" y="0" font-size="14.58" fill="#555555" xml:space="preserve">15000</text>
<text transform="translate(729.12 65.73) scale(0.9797 1)" x="0.38 9.43 18.42 27.48 36.49" y="0" font-size="14.58" fill="#555555" xml:space="preserve">17500</text>
<text transform="translate(84.08 360.67) rotate(-30) scale(0.9910 1)" x="0.40 9.00 17.62 22.28 30.90" y="0" font-size="14.58" fill="#555555" xml:space="preserve">09/30</text>
<text transform="translate(176.42 360.67) rotate(-30) scale(0.9753 1)" x="0.40 9.25 17.93 22.61 31.46" y="0" font-size="14.58" fill="#555555" xml:space="preserve">10/14</text>
<text transform="translate(268.76 360.67) rotate(-30) scale(0.9789 1)" x="0.38 9.20 17.86 22.39 31.33" y="0" font-size="14.58" fill="#555555" xml:space="preserve">10/28</text>
<text transform="translate(361.10 360.67) rotate(-30) scale(0.9565 1)" x="0.49 9.44 18.33 23.14 32.09" y="0" font-size="14.58" fill="#555555" xml:space="preserve">11/11</text>
<text transform="translate(453.44 360.67) rotate(-30) scale(0.9550 1)" x="0.50 9.47 18.36 23.06 32.16" y="0" font-size="14.58" fill="#555555" xml:space="preserve">11/25</text>
<text transform="translate(545.78 360.67) rotate(-30) scale(0.9836 1)" x="0.36 8.95 17.76 22.45 31.12" y="0" font-size="14.58" fill="#555555" xml:space="preserve">12/09</text>
<text transform="translate(638.12 360.67) rotate(-30) scale(0.9602 1)" x="0.47 9.27 18.25 22.91 32.04" y="0" font-size="14.58" fill="#555555" xml:space="preserve">12/23</text>
<text transform="translate(410.00 380.60) scale(0.9542 1)" x="-22.27 -9.43 1.04 11.32" y="0" font-size="17.50" fill="#555555" xml:space="preserve">DATE</text>
<text transform="translate(89.48 185.50) rotate(-90) scale(0.9632 1)" x="-95.23 -90.58 -80.18 -70.40 -58.53 -45.76 -39.70 -28.38 -16.53 -11.31 -1.14 12.44 17.95 25.40 35.31 45.89 50.81 62.35 78.47 89.50" y="0" font-size="17.50" fill="#555555" xml:space="preserve">IPPAN ZAIKO (volume)</text>
<text transform="translate(410.00 39.67) scale(0.9829 1)" x="-212.82 -202.90 -193.10 -183.15 -173.76 -168.81 -157.16 -152.54 -142.37 -133.30 -120.97 -115.84 -107.01 -102.59 -92.90 -83.75 -78.11 -66.44 -62.21 -52.87 -44.58 -34.62 -29.33 -24.01 -19.17 -13.31 0.59 10.93 19.56 24.91 34.85 44.32 49.62 59.52 69.39 78.78 84.11 88.94 94.25 97.91 107.84 116.56 121.82 128.32 138.06 148.05 153.16 163.19 173.40 178.68 184.12 193.97 203.84" y="0" font-size="16.04" fill="#000000" xml:space="preserve">9416 NIKKO Line(Close) / max 58,700 / last(12/29) 300</text>
</g>
</svg></body></html>
